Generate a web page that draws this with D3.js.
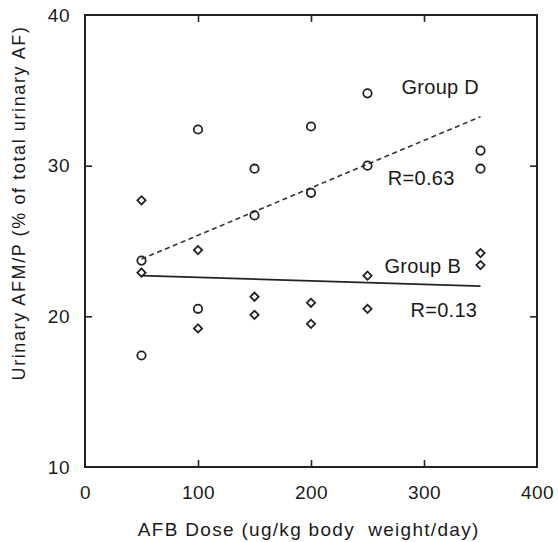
<!DOCTYPE html>
<html>
<head>
<meta charset="utf-8">
<script src="https://cdn.jsdelivr.net/npm/d3@7"></script>
<style>
  body { margin: 0; background: #fff; }
  svg text { font-family: "Liberation Sans", Arial, sans-serif; fill: #1a1a1a; }
</style>
</head>
<body>
<div class="display"></div>
<script>
// AFM/P in urine vs AFB dose, two groups with fitted lines

const WIDTH = 558;
const HEIGHT = 542;
const MARGIN = { top: 15, right: 21, bottom: 75, left: 85 };

// doses, two animals per dose
const doses = [50, 50, 100, 100, 150, 150, 200, 200, 250, 250, 350, 350];
const groupD = [23.7, 17.4, 32.4, 20.5, 29.8, 26.7, 32.6, 28.2, 34.8, 30.0, 31.0, 29.8];
const groupB = [27.7, 22.9, 24.4, 19.2, 21.3, 20.1, 20.9, 19.5, 22.7, 20.5, 24.2, 23.4];

// fitted lines, start and end
const fitDoses = [50, 350];
const fitD = [23.8, 33.25];
const fitB = [22.7, 22.0];

const xTicks = [0, 100, 200, 300, 400];
const yTicks = [10, 20, 30, 40];

const labels = [
  { text: 'Group D', x: 280, y: 34.75 },
  { text: 'R=0.63', x: 268, y: 28.7 },
  { text: 'Group B', x: 265, y: 22.9 },
  { text: 'R=0.13', x: 288, y: 19.95 }
];

const w = WIDTH - MARGIN.left - MARGIN.right;
const h = HEIGHT - MARGIN.top - MARGIN.bottom;

const svg = d3.select('.display')
  .append('svg')
  .attr('width', WIDTH)
  .attr('height', HEIGHT);

const g = svg.append('g')
  .attr('transform', `translate(${MARGIN.left},${MARGIN.top})`);

const x = d3.scaleLinear().domain([0, 400]).range([0, w]);
const y = d3.scaleLinear().domain([10, 40]).range([h, 0]);

// axes, ticks pointing in
const inner = [100, 200, 300];
const innerY = [20, 30];

g.append('g')
  .attr('class', 'axis')
  .attr('transform', `translate(0,${h})`)
  .call(d3.axisBottom(x).tickValues(xTicks).tickSizeInner(-7).tickSizeOuter(0).tickPadding(19));

g.append('g')
  .attr('class', 'axis')
  .call(d3.axisLeft(y).tickValues(yTicks).tickSizeInner(-7).tickSizeOuter(0).tickPadding(15));

g.append('g')
  .attr('class', 'axis')
  .call(d3.axisTop(x).tickValues(inner).tickSizeInner(-7).tickSizeOuter(0).tickFormat(''));

g.append('g')
  .attr('class', 'axis')
  .attr('transform', `translate(${w},0)`)
  .call(d3.axisRight(y).tickValues(innerY).tickSizeInner(-7).tickSizeOuter(0).tickFormat(''));

g.selectAll('.axis .domain').remove();
g.selectAll('.axis line').attr('stroke', '#222').attr('stroke-width', 1.6);
g.selectAll('.axis text')
  .style('font-size', '19px')
  .style('letter-spacing', '0.5px')
  .attr('fill', '#1a1a1a');

// hide ticks sitting on the frame corners
g.selectAll('.axis .tick')
  .filter(d => d === 0 || d === 400 || d === 10 || d === 40)
  .select('line').remove();

g.append('rect')
  .attr('width', w)
  .attr('height', h)
  .attr('fill', 'none')
  .attr('stroke', '#222')
  .attr('stroke-width', 2);

// fitted lines
const line = d3.line()
  .x(d => x(d[0]))
  .y(d => y(d[1]));

g.append('path')
  .datum(d3.zip(fitDoses, fitD))
  .attr('d', line)
  .attr('fill', 'none')
  .attr('stroke', '#333')
  .attr('stroke-width', 1.6)
  .attr('stroke-dasharray', '5,3.5');

g.append('path')
  .datum(d3.zip(fitDoses, fitB))
  .attr('d', line)
  .attr('fill', 'none')
  .attr('stroke', '#222')
  .attr('stroke-width', 1.8);

// markers
g.selectAll('.circ')
  .data(d3.zip(doses, groupD))
  .enter()
  .append('circle')
  .attr('class', 'circ')
  .attr('cx', d => x(d[0]))
  .attr('cy', d => y(d[1]))
  .attr('r', 4.2)
  .attr('fill', 'none')
  .attr('stroke', '#222')
  .attr('stroke-width', 1.8);

const diamond = d3.symbol().type(d3.symbolSquare).size(34);

g.selectAll('.diam')
  .data(d3.zip(doses, groupB))
  .enter()
  .append('path')
  .attr('class', 'diam')
  .attr('d', diamond)
  .attr('transform', d => `translate(${x(d[0])},${y(d[1])}) rotate(45)`)
  .attr('fill', 'none')
  .attr('stroke', '#222')
  .attr('stroke-width', 1.8);

// annotations
g.selectAll('.lab')
  .data(labels)
  .enter()
  .append('text')
  .attr('class', 'lab')
  .attr('x', d => x(d.x))
  .attr('y', d => y(d.y))
  .style('font-size', '20px')
  .style('letter-spacing', '0.3px')
  .text(d => d.text);

// axis titles
svg.append('text')
  .attr('x', MARGIN.left + x(198))
  .attr('y', 536)
  .attr('text-anchor', 'middle')
  .style('font-size', '19px')
  .style('letter-spacing', '1.3px')
  .style('white-space', 'pre')
  .text('AFB Dose (ug/kg body  weight/day)');

svg.append('text')
  .attr('transform', 'translate(25,203) rotate(-90)')
  .attr('text-anchor', 'middle')
  .style('font-size', '18px')
  .style('letter-spacing', '1.6px')
  .text('Urinary AFM/P (% of total urinary AF)');
</script>
</body>
</html>
